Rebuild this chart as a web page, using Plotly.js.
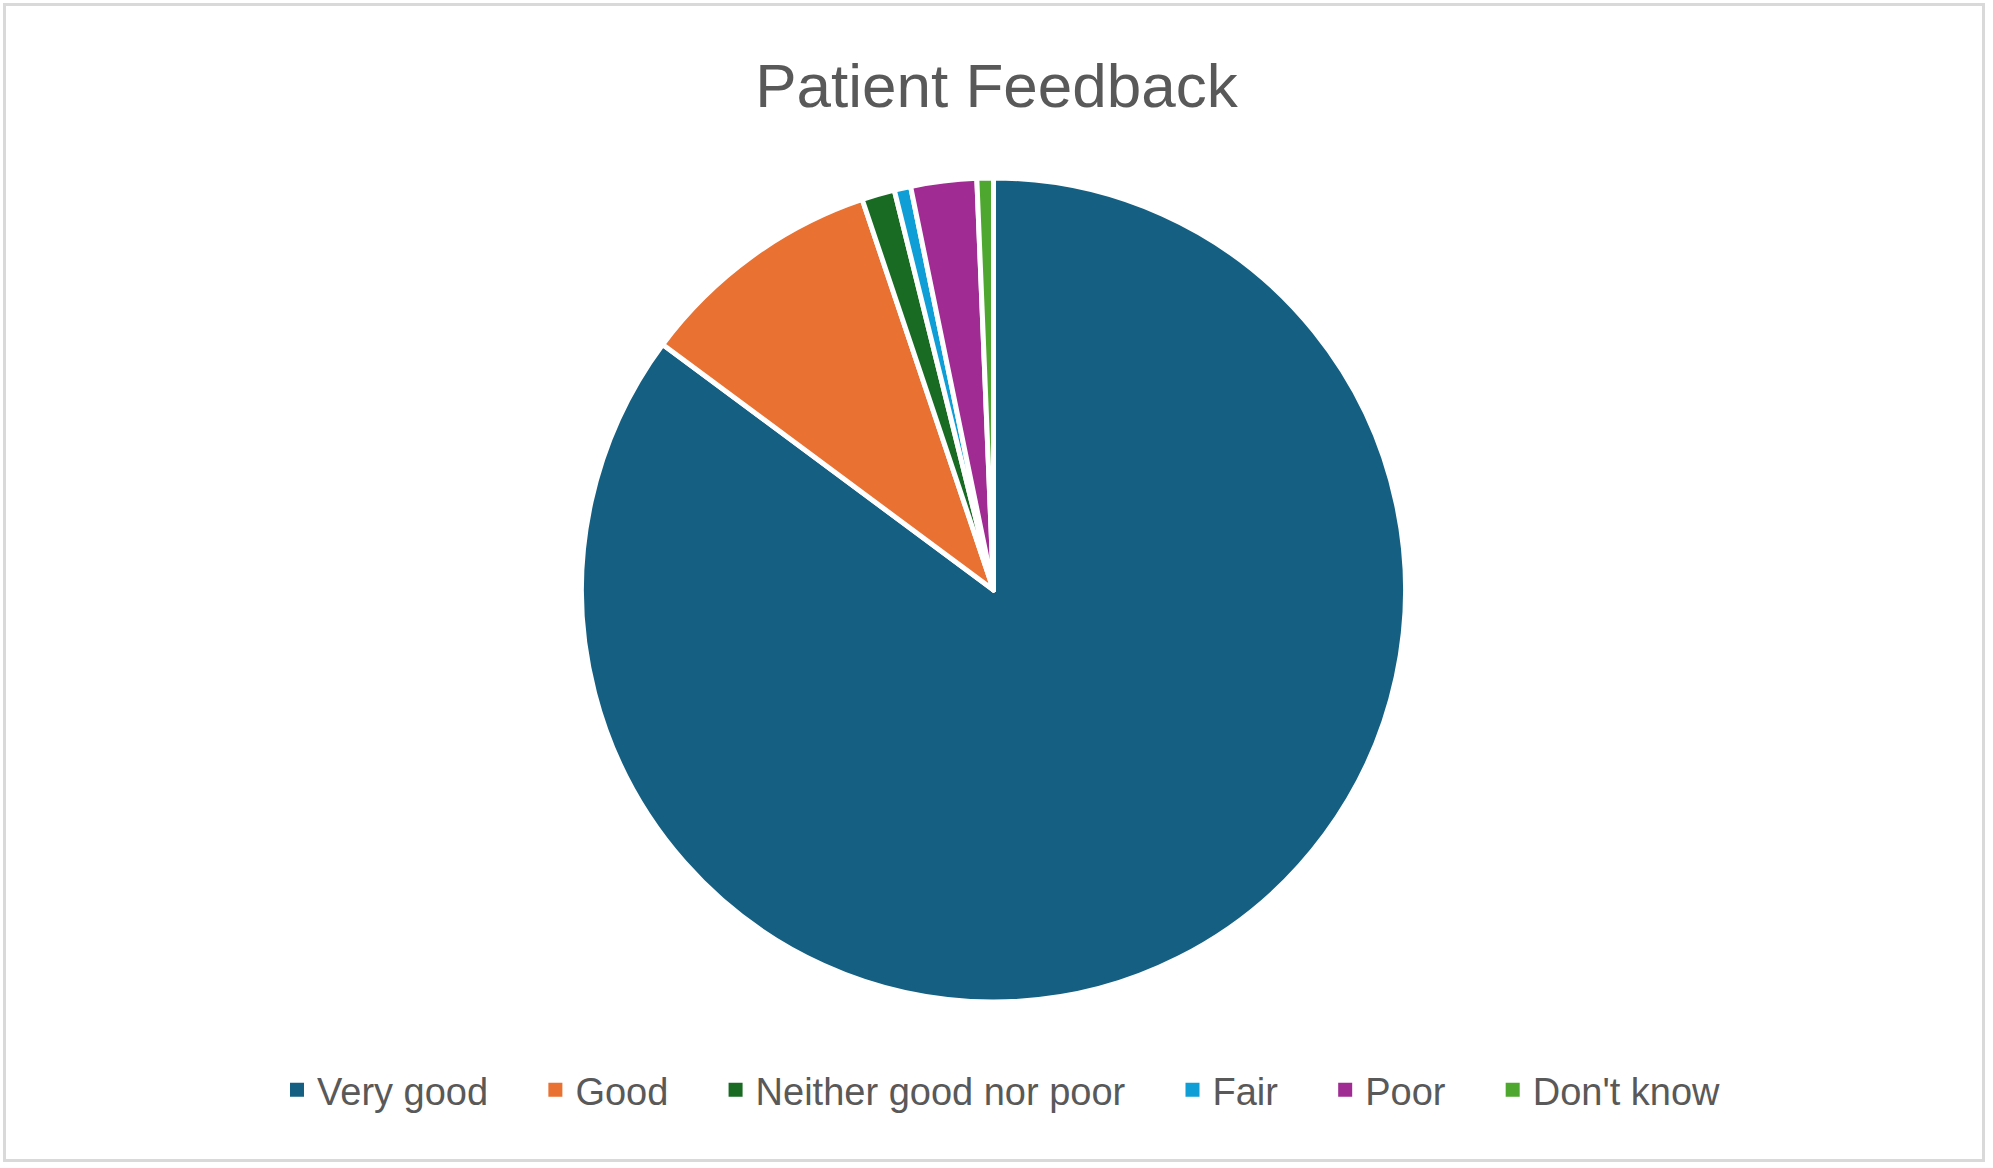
<!DOCTYPE html>
<html>
<head>
<meta charset="utf-8">
<script src="https://cdn.plot.ly/plotly-3.0.1.min.js"></script>
<style>
  html, body { margin: 0; padding: 0; background: #fff; }
  #chart { width: 1993px; height: 1168px; }
</style>
</head>
<body>
<div id="chart"></div>
<script>
// categories and counts
const categories = ['Very good', 'Good', 'Neither good nor poor', 'Fair', 'Poor', "Don't know"]
const counts     = [132, 15, 2, 1, 4, 1]
const colors     = ['#156082', '#E97132', '#196B24', '#0F9ED5', '#A02B93', '#4EA72E']

const W = 1993, H = 1168
const font = 'Liberation Sans, Arial, sans-serif'

// a few no-break spaces after each name to widen the legend gaps like Excel does
const pad = '\u00a0\u00a0\u00a0\u00a0'

let pie = {
  type: 'pie',
  labels: categories,
  values: counts,
  sort: false,
  direction: 'clockwise',
  rotation: 0,
  textinfo: 'none',
  hoverinfo: 'label+value+percent',
  showlegend: false,
  marker: {
    colors: colors,
    line: { color: '#ffffff', width: 5 },
  },
  domain: { x: [0, 0.997], y: [(H - 1002) / H, (H - 178) / H] },
}

// pie legend squares are tiny with a thick white border, so the legend
// entries come from empty marker traces with bigger square symbols
let legendTraces = categories.map((c, i) => ({
  type: 'scatter',
  mode: 'markers',
  x: [null],
  y: [null],
  name: c + pad,
  hoverinfo: 'skip',
  marker: { symbol: 'square', size: 14, color: colors[i], line: { width: 0 } },
}))

let layout = {
  width: W,
  height: H,
  margin: { l: 0, r: 0, t: 0, b: 0 },
  paper_bgcolor: '#ffffff',
  plot_bgcolor: 'rgba(0,0,0,0)',
  font: { family: font, color: '#595959' },
  xaxis: { visible: false },
  yaxis: { visible: false },
  title: {
    text: 'Patient Feedback',
    font: { family: font, size: 62, color: '#595959' },
    x: 0.5, xanchor: 'center',
    y: 1 - 85 / H, yanchor: 'middle',
    xref: 'paper', yref: 'paper',
  },
  showlegend: true,
  legend: {
    orientation: 'h',
    x: 1022 / W, xanchor: 'center',
    y: 1 - 1090 / H, yanchor: 'middle',
    font: { family: font, size: 38, color: '#595959' },
    itemsizing: 'trace',
    itemclick: false,
  },
  shapes: [{
    type: 'rect', xref: 'paper', yref: 'paper',
    x0: 4.5 / W, x1: 1983.5 / W, y0: 1 - 1160.5 / H, y1: 1 - 4.5 / H,
    line: { color: '#d9d9d9', width: 3 },
    fillcolor: 'rgba(0,0,0,0)',
  }],
}

Plotly.newPlot('chart', [pie, ...legendTraces], layout, { displayModeBar: false, staticPlot: true })
</script>
</body>
</html>
